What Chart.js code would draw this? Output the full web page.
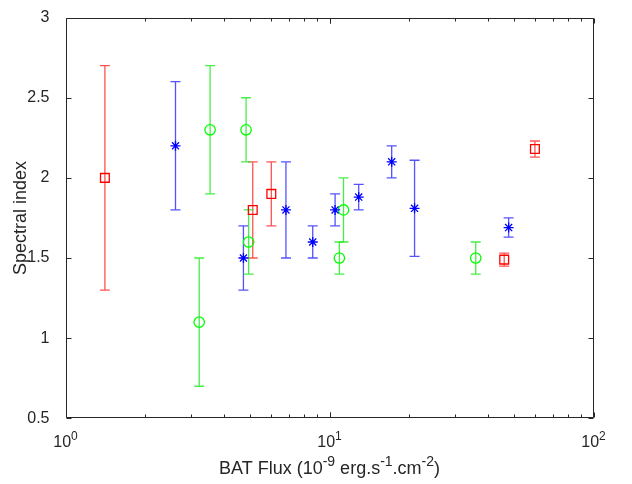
<!DOCTYPE html>
<html>
<head>
<meta charset="utf-8">
<script src="https://cdn.jsdelivr.net/npm/chart.js@4"></script>
<style>
  body { margin: 0; background: #ffffff; }
  #wrap { width: 632px; height: 484px; position: relative; }
</style>
</head>
<body>
<div id="wrap"><canvas id="chart"></canvas></div>
<script>
// Data
const redFlux = [1.41, 5.12, 6.02, 45.9, 60.0];
const redIndex = [2.0, 1.8, 1.9, 1.49, 2.18];
const redLow = [1.3, 1.5, 1.7, 1.45, 2.13];
const redHigh = [2.7, 2.1, 2.1, 1.53, 2.23];

const blueFlux = [2.61, 4.72, 6.84, 8.64, 10.5, 12.9, 17.2, 21.0, 47.7];
const blueIndex = [2.2, 1.5, 1.8, 1.6, 1.8, 1.88, 2.1, 1.81, 1.69];
const blueLow = [1.8, 1.3, 1.5, 1.5, 1.7, 1.8, 2.0, 1.51, 1.63];
const blueHigh = [2.6, 1.7, 2.1, 1.7, 1.9, 1.96, 2.2, 2.11, 1.75];

const greenFlux = [3.21, 3.53, 4.83, 4.94, 10.9, 11.3, 35.8];
const greenIndex = [1.1, 2.3, 2.3, 1.6, 1.5, 1.8, 1.5];
const greenLow = [0.7, 1.9, 2.1, 1.4, 1.4, 1.6, 1.4];
const greenHigh = [1.5, 2.7, 2.5, 1.8, 1.6, 2.0, 1.6];

const xTickValues = [1, 10, 100];
const xTickExponents = ['0', '1', '2'];
const yTickValues = [0.5, 1, 1.5, 2, 2.5, 3];

const AXIS_COLOR = '#262626';
const FONT = '"Liberation Sans", Arial, sans-serif';

function makeSet(xs, ys, lo, hi, color, errColor, style, radius) {
  return {
    data: xs.map((x, i) => ({ x: x, y: ys[i] })),
    errLow: lo,
    errHigh: hi,
    errColor: errColor,
    borderColor: color,
    pointBorderColor: color,
    backgroundColor: 'rgba(0,0,0,0)',
    pointBackgroundColor: 'rgba(0,0,0,0)',
    pointStyle: style,
    pointRadius: radius,
    pointBorderWidth: 1.3,
    showLine: false
  };
}

// Error bars, drawn from the scales
const errorBars = {
  id: 'errorBars',
  beforeDatasetsDraw(chart) {
    const ctx = chart.ctx;
    const xs = chart.scales.x, ys = chart.scales.y;
    ctx.save();
    chart.data.datasets.forEach(ds => {
      ctx.strokeStyle = ds.errColor;
      ctx.lineWidth = 1.3;
      ds.data.forEach((p, i) => {
        const px = xs.getPixelForValue(p.x);
        const top = ys.getPixelForValue(ds.errHigh[i]);
        const bot = ys.getPixelForValue(ds.errLow[i]);
        ctx.beginPath();
        ctx.moveTo(px, top); ctx.lineTo(px, bot);
        ctx.moveTo(px - 5, top); ctx.lineTo(px + 5, top);
        ctx.moveTo(px - 5, bot); ctx.lineTo(px + 5, bot);
        ctx.stroke();
      });
    });
    ctx.restore();
  }
};

function drawParts(ctx, parts, cx, baseline, size) {
  const supSize = Math.round(size * 0.75);
  let total = 0;
  parts.forEach(p => {
    ctx.font = (p[1] ? supSize : size) + 'px ' + FONT;
    total += ctx.measureText(p[0]).width;
  });
  let x = cx - total / 2;
  parts.forEach(p => {
    ctx.font = (p[1] ? supSize : size) + 'px ' + FONT;
    ctx.fillText(p[0], x, p[1] ? baseline - size * 0.42 : baseline);
    x += ctx.measureText(p[0]).width;
  });
}

// Box, inward ticks, x tick labels and x title
const axesBox = {
  id: 'axesBox',
  afterDraw(chart) {
    const ctx = chart.ctx;
    const a = chart.chartArea;
    const xs = chart.scales.x, ys = chart.scales.y;
    const L = Math.round(a.left) + 0.5, R = Math.round(a.right) - 0.5;
    const T = Math.round(a.top) + 0.5, B = Math.round(a.bottom) - 0.5;
    ctx.save();
    ctx.strokeStyle = AXIS_COLOR;
    ctx.lineWidth = 1;
    ctx.beginPath();
    ctx.rect(L, T, R - L, B - T);
    yTickValues.forEach(v => {
      const py = Math.round(ys.getPixelForValue(v)) + 0.5;
      ctx.moveTo(L, py); ctx.lineTo(L + 5, py);
      ctx.moveTo(R, py); ctx.lineTo(R - 5, py);
    });
    for (let d = 1; d < 100; d *= 10) {
      for (let k = 1; k <= 10; k++) {
        const v = d * k;
        const len = (k === 1 || k === 10) ? 5 : 3;
        const px = Math.round(xs.getPixelForValue(v)) + 0.5;
        ctx.moveTo(px, B); ctx.lineTo(px, B - len);
        ctx.moveTo(px, T); ctx.lineTo(px, T + len);
      }
    }
    ctx.stroke();

    ctx.fillStyle = AXIS_COLOR;
    ctx.textBaseline = 'alphabetic';
    xTickValues.forEach((v, i) => {
      const px = xs.getPixelForValue(v);
      drawParts(ctx, [['10', false], [xTickExponents[i], true]], px, 447, 16);
    });
    drawParts(ctx, [['BAT Flux (10', false], ['-9', true], [' erg.s', false], ['-1', true],
      ['.cm', false], ['-2', true], [')', false]], (a.left + a.right) / 2, 474, 18);
    ctx.restore();
  }
};

new Chart(document.getElementById('chart'), {
  type: 'scatter',
  data: {
    datasets: [
      makeSet(redFlux, redIndex, redLow, redHigh, '#ff0000', 'rgba(255,40,40,0.8)', 'rect', 6.2),
      makeSet(blueFlux, blueIndex, blueLow, blueHigh, '#0000ff', 'rgba(40,40,255,0.8)', 'star', 5),
      makeSet(greenFlux, greenIndex, greenLow, greenHigh, '#00ff00', 'rgba(40,235,40,0.85)', 'circle', 5.2)
    ]
  },
  options: {
    responsive: true,
    maintainAspectRatio: false,
    animation: false,
    layout: { padding: { top: 8, right: 38.5, left: 0, bottom: 0 } },
    plugins: { legend: { display: false }, tooltip: { enabled: false } },
    scales: {
      x: {
        type: 'logarithmic',
        min: 1,
        max: 100,
        grid: { display: false },
        border: { display: false },
        ticks: { display: false },
        afterFit(scale) { scale.height = 65.7; }
      },
      y: {
        min: 0.5,
        max: 3,
        grid: { display: false },
        border: { display: false },
        afterBuildTicks(scale) { scale.ticks = yTickValues.map(v => ({ value: v })); },
        ticks: {
          color: AXIS_COLOR,
          font: { family: FONT, size: 16 },
          padding: 8,
          callback: v => String(v)
        },
        title: {
          display: true,
          text: 'Spectral index',
          color: AXIS_COLOR,
          font: { family: FONT, size: 18 },
          padding: { top: 10, bottom: 0 }
        },
        afterFit(scale) { scale.width = 65.5; }
      }
    }
  },
  plugins: [errorBars, axesBox]
});
</script>
</body>
</html>
